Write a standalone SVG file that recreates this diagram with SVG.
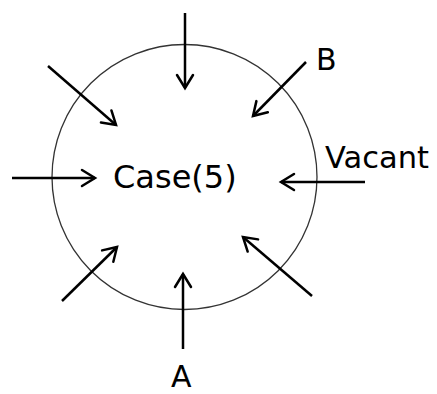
<svg xmlns="http://www.w3.org/2000/svg" width="437" height="394" viewBox="0 0 437 394">
<defs>
<marker id="ah" markerUnits="userSpaceOnUse" markerWidth="30" markerHeight="30" refX="0" refY="0" viewBox="-15 -15 30 30" orient="auto" overflow="visible">
<path d="M-13,-8 L0,0 L-13,8" fill="none" stroke="#000" stroke-width="2.5" stroke-linecap="round" stroke-linejoin="miter"/>
</marker>
</defs>
<style>
.c{fill:none;stroke:#333;stroke-width:1.3}
.a{stroke:#000;stroke-width:2.5;fill:none;marker-end:url(#ah)}
text{font-family:"DejaVu Sans",Verdana,sans-serif;font-size:30px;fill:#000}
</style>
<rect width="437" height="394" fill="#fff"/>
<g id="circle"><circle class="c" cx="184.5" cy="177" r="132.5"/></g>
<g id="case"><text x="113" y="188" style="font-size:32px">Case(5)</text></g>
<g id="labelB"><text x="316" y="70">B</text></g>
<g id="labelVacant"><text x="325" y="168" style="font-size:30.5px">Vacant</text></g>
<g id="labelA"><text x="171" y="387">A</text></g>
<g id="connectors">
<line class="a" x1="185" y1="13" x2="185" y2="88"/>
<line class="a" x1="48" y1="66" x2="116" y2="125"/>
<line class="a" x1="306" y1="62" x2="253" y2="116"/>
<line class="a" x1="12" y1="178" x2="95" y2="178"/>
<line class="a" x1="365" y1="182" x2="281" y2="182"/>
<line class="a" x1="62" y1="301" x2="117" y2="247"/>
<line class="a" x1="183" y1="349" x2="183" y2="274"/>
<line class="a" x1="312" y1="296" x2="243" y2="237"/>
</g>
</svg>
